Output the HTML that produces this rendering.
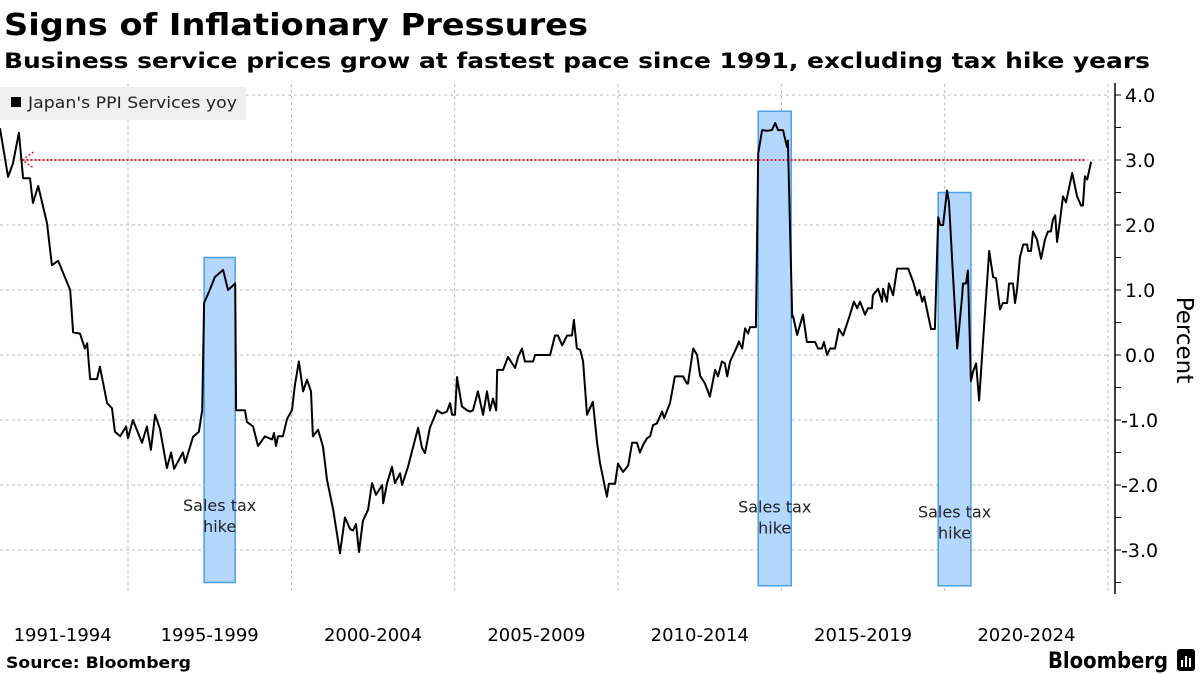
<!DOCTYPE html>
<html><head><meta charset="utf-8"><style>
html,body{margin:0;padding:0;background:#fff;}
svg{display:block;font-family:"DejaVu Sans","Liberation Sans",sans-serif;}
</style></head><body>
<svg id="chart" width="1200" height="675" viewBox="0 0 1200 675" xmlns="http://www.w3.org/2000/svg">
<text x="4" y="35" font-size="30" font-weight="bold" textLength="584" lengthAdjust="spacingAndGlyphs" fill="#000">Signs of Inflationary Pressures</text>
<text x="4" y="68" font-size="21" font-weight="bold" textLength="1146" lengthAdjust="spacingAndGlyphs" fill="#000">Business service prices grow at fastest pace since 1991, excluding tax hike years</text>
<g id="grid"></g>
<g id="boxes"></g>
<g id="series"></g>
<g id="axis"></g>
<g>
<rect x="0" y="87" width="246" height="33" fill="#f0f0f0"/>
<rect x="11" y="97" width="10" height="10" fill="#000"/>
<text x="28" y="108" font-size="16" textLength="209" lengthAdjust="spacingAndGlyphs" fill="#222">Japan's PPI Services yoy</text>
</g>
<text transform="translate(1177,340) rotate(90)" text-anchor="middle" font-size="23" fill="#000">Percent</text>
<text x="6" y="668" font-size="16" font-weight="bold" textLength="185" lengthAdjust="spacingAndGlyphs" fill="#000">Source: Bloomberg</text>
<text x="1048" y="668" font-size="22" font-weight="bold" textLength="120" lengthAdjust="spacingAndGlyphs" fill="#000">Bloomberg</text>
<g>
<rect x="1177" y="649" width="18" height="22" rx="3" fill="#000"/>
<rect x="1181" y="660" width="2" height="7" fill="#fff"/><rect x="1185" y="656" width="2" height="11" fill="#fff"/><rect x="1189" y="658" width="2" height="9" fill="#fff"/>
</g>
</svg>
<script>
const years = [1991.08,1991.33,1991.48,1991.66,1991.79,1992.0,1992.09,1992.25,1992.52,1992.67,1992.86,1993.23,1993.32,1993.53,1993.68,1993.75,1993.84,1994.05,1994.14,1994.36,1994.51,1994.60,1994.76,1994.94,1995.0,1995.15,1995.43,1995.58,1995.70,1995.83,1995.98,1996.19,1996.32,1996.41,1996.68,1996.75,1996.99,1997.17,1997.27,1997.33,1997.51,1997.66,1997.91,1998.06,1998.28,1998.31,1998.58,1998.64,1998.83,1998.98,1999.19,1999.41,1999.47,1999.53,1999.59,1999.74,1999.87,2000.02,2000.11,2000.23,2000.36,2000.48,2000.60,2000.66,2000.82,2000.97,2001.09,2001.28,2001.49,2001.64,2001.80,2001.89,2001.98,2002.07,2002.19,2002.35,2002.47,2002.59,2002.78,2002.81,2002.93,2003.08,2003.17,2003.33,2003.39,2003.57,2003.88,2004.0,2004.09,2004.24,2004.46,2004.61,2004.76,2004.86,2004.92,2005.01,2005.07,2005.22,2005.38,2005.47,2005.56,2005.71,2005.87,2005.99,2006.08,2006.17,2006.27,2006.30,2006.48,2006.63,2006.85,2006.94,2007.06,2007.15,2007.40,2007.46,2007.92,2008.07,2008.16,2008.29,2008.44,2008.59,2008.65,2008.74,2008.84,2008.93,2009.05,2009.23,2009.36,2009.45,2009.66,2009.72,2009.91,2010.0,2010.15,2010.31,2010.43,2010.58,2010.67,2010.77,2010.89,2010.98,2011.07,2011.19,2011.35,2011.41,2011.59,2011.74,2011.99,2012.11,2012.14,2012.30,2012.42,2012.51,2012.66,2012.81,2012.97,2013.06,2013.18,2013.27,2013.34,2013.43,2013.64,2013.70,2013.80,2013.89,2013.98,2014.04,2014.22,2014.29,2014.41,2014.56,2014.71,2014.81,2014.90,2015.05,2015.17,2015.20,2015.33,2015.36,2015.48,2015.66,2015.78,2016.03,2016.12,2016.24,2016.30,2016.40,2016.49,2016.64,2016.76,2016.89,2017.10,2017.22,2017.32,2017.41,2017.56,2017.65,2017.77,2017.80,2017.96,2018.08,2018.11,2018.23,2018.29,2018.42,2018.54,2018.88,2019.03,2019.15,2019.22,2019.31,2019.37,2019.58,2019.70,2019.80,2019.86,2019.95,2020.07,2020.13,2020.25,2020.38,2020.53,2020.56,2020.65,2020.71,2020.80,2020.87,2020.96,2021.05,2021.17,2021.36,2021.48,2021.57,2021.69,2021.78,2021.91,2021.97,2022.09,2022.15,2022.21,2022.30,2022.40,2022.52,2022.55,2022.64,2022.70,2022.82,2022.95,2023.07,2023.16,2023.25,2023.31,2023.38,2023.44,2023.53,2023.62,2023.71,2023.90,2024.05,2024.17,2024.23,2024.29,2024.36,2024.48];
const ppiValues = [3.49,2.74,2.95,3.42,2.72,2.72,2.34,2.6,2.03,1.38,1.45,1.0,0.35,0.33,0.1,0.18,-0.37,-0.37,-0.18,-0.74,-0.82,-1.18,-1.25,-1.1,-1.28,-1.0,-1.35,-1.1,-1.46,-0.92,-1.14,-1.74,-1.5,-1.75,-1.5,-1.66,-1.26,-1.18,-0.85,0.8,1.01,1.2,1.31,1.0,1.1,-0.85,-0.85,-1.03,-1.1,-1.4,-1.25,-1.3,-1.2,-1.4,-1.25,-1.25,-0.98,-0.85,-0.46,-0.1,-0.56,-0.38,-0.56,-1.25,-1.15,-1.41,-1.92,-2.38,-3.05,-2.5,-2.68,-2.7,-2.6,-3.03,-2.55,-2.38,-1.97,-2.15,-2.0,-2.28,-1.97,-1.72,-1.97,-1.82,-2.0,-1.72,-1.12,-1.43,-1.51,-1.12,-0.85,-0.9,-0.87,-0.74,-0.92,-0.92,-0.34,-0.79,-0.85,-0.87,-0.85,-0.56,-0.92,-0.56,-0.85,-0.67,-0.85,-0.23,-0.23,-0.03,-0.2,-0.03,0.1,-0.1,-0.1,0.0,0.0,0.3,0.3,0.15,0.3,0.3,0.54,0.1,0.08,-0.1,-0.92,-0.72,-1.35,-1.67,-2.18,-1.98,-1.98,-1.67,-1.8,-1.7,-1.35,-1.35,-1.5,-1.38,-1.28,-1.25,-1.08,-1.05,-0.87,-0.97,-0.74,-0.33,-0.33,-0.44,-0.44,0.1,0.0,-0.32,-0.44,-0.64,-0.23,-0.33,-0.1,-0.13,-0.33,-0.1,0.13,0.21,0.1,0.41,0.33,0.43,0.43,3.1,3.46,3.45,3.46,3.57,3.46,3.46,3.2,3.3,0.58,0.59,0.31,0.62,0.2,0.2,0.1,0.1,0.2,0.0,0.1,0.1,0.4,0.3,0.62,0.82,0.72,0.82,0.62,0.72,0.72,0.92,1.02,0.82,1.02,0.82,1.1,0.92,1.33,1.33,1.13,0.92,1.0,0.82,0.9,0.4,0.4,2.12,2.0,2.0,2.53,2.35,1.25,0.1,0.9,1.1,1.1,1.3,-0.4,-0.25,-0.13,-0.7,0.2,1.6,1.2,1.18,0.7,0.8,0.8,1.1,1.1,0.8,1.0,1.5,1.7,1.7,1.6,1.6,1.9,1.78,1.48,1.78,1.9,1.9,2.08,2.15,1.74,2.08,2.44,2.35,2.8,2.44,2.3,2.3,2.75,2.7,2.97];
const yTickValues = [4,3,2,1,0,-1,-2,-3];
const yTickLabels = ["4.0","3.0","2.0","1.0","0.0","-1.0","-2.0","-3.0"];
const xGridYears = [1995,2000,2005,2010,2015,2020,2025];
const xLabels = ["1991-1994","1995-1999","2000-2004","2005-2009","2010-2014","2015-2019","2020-2024"];
const xLabelStarts = [1991,1995,2000,2005,2010,2015,2020];
const xLabelEnds = [1995,2000,2005,2010,2015,2020,2025];
const hikeStart = [1997.33,2014.29,2019.80];
const hikeEnd = [1998.28,2015.30,2020.80];
const hikeTop = [1.5,3.75,2.5];
const hikeBottom = [-3.5,-3.55,-3.55];
const hikeLabelY = [-2.4,-2.42,-2.5];
const refValue = 3.0, refStart = 1991.77, refEnd = 2024.3;

const NS = "http://www.w3.org/2000/svg";
const xS = yr => 128 + (yr - 1995) * 32.67;
const yS = v => 355 - v * 65;
function mk(tag, attrs, parent){const e=document.createElementNS(NS,tag);for(const k in attrs)e.setAttribute(k,attrs[k]);parent.appendChild(e);return e;}
const grid=document.getElementById('grid'), boxes=document.getElementById('boxes'), series=document.getElementById('series'), axis=document.getElementById('axis');

yTickValues.forEach((v,i)=>{
  const l=mk('line',{x1:0,x2:1107,y1:yS(v),y2:yS(v),stroke:'#bbb','stroke-width':1,'stroke-dasharray':'3,3'},grid);
  
  
});
xGridYears.forEach(yr=>{
  const l=mk('line',{x1:xS(yr),x2:xS(yr),y1:84,y2:594,stroke:'#bbb','stroke-width':1,'stroke-dasharray':'3,3'},grid);
  
  
});
xLabels.forEach((t,i)=>{
  const tx=mk('text',{x:(Math.max(xS(xLabelStarts[i]),-3)+xS(xLabelEnds[i]))/2,y:641,'text-anchor':'middle','font-size':18,fill:'#000'},grid);
  tx.textContent=t;
  
  
});
hikeStart.forEach((s,i)=>{
  const r=mk('rect',{x:xS(s),y:yS(hikeTop[i]),width:xS(hikeEnd[i])-xS(s),height:yS(hikeBottom[i])-yS(hikeTop[i]),fill:'#b3d7ff',stroke:'#4a9fe8','stroke-width':1.5},boxes);
  
  
});
const ref=mk('line',{x1:xS(refStart),x2:xS(refEnd),y1:yS(refValue),y2:yS(refValue),stroke:'#e0202a','stroke-width':2,'stroke-dasharray':'2,2'},series);


const arr=mk('path',{d:`M${xS(refStart)+11},${yS(refValue)-8} L${xS(refStart)},${yS(refValue)} L${xS(refStart)+11},${yS(refValue)+8}`,fill:'none',stroke:'#e0202a','stroke-width':1.5,'stroke-dasharray':'2,2'},series);


let d=''; years.forEach((y,i)=>{d+=(i?'L':'M')+xS(y).toFixed(1)+','+yS(ppiValues[i]).toFixed(1);});
const line=mk('path',{d:d,fill:'none',stroke:'#000','stroke-width':2,'stroke-linejoin':'round'},series);


hikeStart.forEach((s,i)=>{
  const cx=(xS(s)+xS(hikeEnd[i]))/2, cy=yS(hikeLabelY[i]);
  const t1=mk('text',{x:cx,y:cy,'text-anchor':'middle','font-size':16,fill:'#222'},series); t1.textContent='Sales tax';
  
  
  const t2=mk('text',{x:cx,y:cy+21,'text-anchor':'middle','font-size':16,fill:'#222'},series); t2.textContent='hike';
  
  
});
const ax=mk('line',{x1:1115,x2:1115,y1:83,y2:594,stroke:'#000','stroke-width':1.5},axis);


for(let v=-3.5; v<=4.01; v+=0.5){
  const tk=mk('line',{x1:1115,x2:1121,y1:yS(v),y2:yS(v),stroke:'#000','stroke-width':1},axis);
  
  
}
yTickValues.forEach((v,i)=>{
  const t=mk('text',{x:v<0?1121:1125,y:yS(v)+7,'font-size':19,fill:'#000'},axis);
  t.textContent=yTickLabels[i];
  
  
});
</script>
</body></html>
